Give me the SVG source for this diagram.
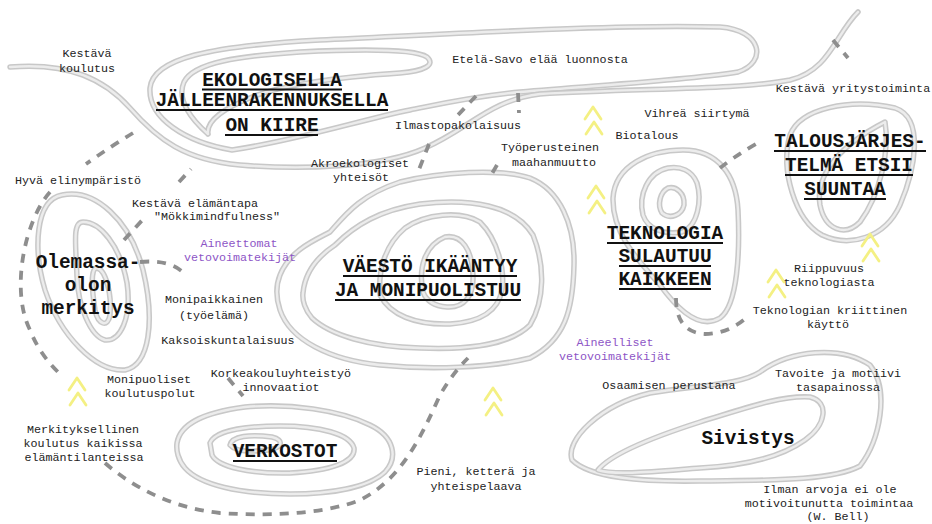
<svg xmlns="http://www.w3.org/2000/svg" xmlns:xlink="http://www.w3.org/1999/xlink" width="932" height="524" viewBox="0 0 932 524">
<style>
.c{fill:none;stroke:#c8c8c8;stroke-width:5.5;stroke-linecap:round;stroke-linejoin:round}
.ci{fill:none;stroke:#ececec;stroke-width:2.4;stroke-linecap:round;stroke-linejoin:round}
.d{fill:none;stroke:#8e8e8e;stroke-width:3.8;stroke-dasharray:9 8;stroke-linecap:butt}
.ch{fill:none;stroke:#f4f083;stroke-width:2.8;stroke-linecap:round;stroke-linejoin:round}
.t{font-family:"Liberation Mono","Courier New",monospace;font-size:11.7px;fill:#222;text-anchor:middle}
.p{fill:#8d55c6}
.h{font-family:"Liberation Mono","Courier New",monospace;font-size:19.4px;font-weight:bold;fill:#111;text-anchor:middle}
.u{stroke:#111;stroke-width:2.2}
</style>
<defs>
<g id="dch"><path class="ch" d="M-8,12 L0,0 L8,12"/><path class="ch" d="M-7,27 L1,15 L9,27"/></g>
<path id="e1" d="M208,134 C192,120 176,100 184,82 C194,62 240,56 300,52 C360,49 415,49 427,57 C436,65 424,71 400,73 C340,77 285,84 252,97 C225,108 206,120 208,134"/>
<path id="e2" d="M232,150 C185,142 148,118 150,88 C153,58 210,46 320,40 C470,33 620,24 720,27 C762,30 768,62 738,72 C690,80 600,85 520,92 C470,97 440,104 410,110 C360,120 300,140 232,150"/>
<path id="e3" d="M10,67 C70,62 105,80 130,108 C158,140 185,160 240,165 C300,170 380,168 425,148 C470,128 490,100 540,94 C640,88 740,90 790,80 C830,70 835,35 858,12"/>
<path id="o1" d="M62,195 C95,188 130,220 143,270 C155,320 150,365 125,370 C95,372 60,335 45,290 C33,250 35,200 62,195 Z"/>
<path id="o2" d="M83,222 C100,222 120,245 127,283 C132,318 120,342 105,340 C90,336 78,305 77,277 C76,245 72,222 83,222 Z"/>
<path id="o3" d="M97,268 C106,270 112,295 110,315 C108,328 98,325 95,310 C92,290 90,268 97,268 Z"/>
<path id="v1" d="M280,275 C290,250 315,240 330,232 C345,215 360,195 400,182 C440,172 500,168 530,178 C560,190 575,225 574,265 C573,310 565,340 530,358 C490,368 430,370 380,365 C330,360 290,340 280,310 C276,298 276,285 280,275 Z"/>
<path id="v2" d="M303,293 C305,270 320,255 335,245 C355,225 380,210 420,204 C470,198 515,205 533,235 C545,265 545,300 530,325 C510,345 470,350 420,348 C370,347 330,335 312,318 C305,310 302,300 303,293 Z"/>
<path id="v3" d="M380,295 C378,270 385,245 405,228 C425,214 460,210 480,222 C498,240 505,270 502,290 C498,312 480,322 450,324 C415,325 390,315 380,295 Z"/>
<path id="v4" d="M423,292 C418,268 425,245 445,237 C462,234 472,250 473,275 C474,295 465,308 447,307 C433,306 426,300 423,292 Z"/>
<path id="r1" d="M177,443 C180,425 200,413 245,407 C290,403 340,410 370,425 C395,437 398,458 385,472 C368,488 330,494 290,494 C240,494 200,485 185,468 C178,460 176,450 177,443 Z"/>
<path id="r2" d="M210,443 C214,432 240,426 280,426 C320,426 350,434 354,448 C356,462 330,471 290,473 C250,474 218,467 212,455 Z"/>
<path id="r3" d="M230,445 C232,436 250,434 272,437 C285,440 282,448 268,450 C252,452 236,452 230,445 Z"/>
<path id="k1" d="M683,150 C650,150 615,165 613,198 C612,235 640,262 660,285 C678,310 700,330 720,318 C738,305 740,250 738,210 C736,175 718,150 683,150 Z"/>
<path id="k2" d="M668,168 C648,172 638,195 643,215 C648,230 665,235 682,232 C698,226 702,200 697,183 C692,170 680,166 668,168 Z"/>
<path id="k3" d="M668,188 C660,192 657,205 662,213 C670,220 682,215 684,205 C685,193 676,186 668,188 Z"/>
<path id="a1" d="M790,135 C800,108 850,98 895,108 C925,118 915,170 900,205 C885,238 850,248 822,235 C795,220 780,170 790,135 Z"/>
<path id="a2" d="M885,122 C890,150 880,195 860,222 C845,237 825,230 820,205 C815,175 840,145 885,122 Z"/>
<path id="s1" d="M760,372 C790,350 840,345 870,365 C890,390 880,440 860,466 C830,482 760,480 700,481 C640,482 590,478 572,460 C565,440 600,405 650,393 C700,385 740,385 760,372 Z"/>
<path id="s2" d="M598,470 C610,455 650,438 700,422 C740,410 780,395 810,397 C830,402 826,425 805,440 C780,458 740,466 700,468 C660,471 615,476 598,470 Z"/>
</defs>
<rect width="932" height="524" fill="#fff"/>

<g id="ekologisella">
<use xlink:href="#e1" class="c"/><use xlink:href="#e1" class="ci"/>
<use xlink:href="#e2" class="c"/><use xlink:href="#e2" class="ci"/>
<use xlink:href="#e3" class="c"/><use xlink:href="#e3" class="ci"/>
<text class="h" x="272" y="86">EKOLOGISELLA</text>
<text class="h" x="272" y="106">JÄLLEENRAKENNUKSELLA</text>
<text class="h" x="272" y="131">ON KIIRE</text>
<line class="u" x1="202" y1="89.5" x2="342" y2="89.5"/>
<line class="u" x1="156" y1="110" x2="388" y2="110"/>
<line class="u" x1="225" y1="135" x2="318" y2="135"/>
</g>

<g id="olemassaolo">
<use xlink:href="#o1" class="c"/><use xlink:href="#o1" class="ci"/>
<use xlink:href="#o2" class="c"/><use xlink:href="#o2" class="ci"/>
<use xlink:href="#o3" class="c"/><use xlink:href="#o3" class="ci"/>
<text class="h" x="88" y="268">Olemassa-</text>
<text class="h" x="88" y="291">olon</text>
<text class="h" x="88" y="314">merkitys</text>
</g>

<g id="vaesto">
<use xlink:href="#v1" class="c"/><use xlink:href="#v1" class="ci"/>
<use xlink:href="#v2" class="c"/><use xlink:href="#v2" class="ci"/>
<use xlink:href="#v3" class="c"/><use xlink:href="#v3" class="ci"/>
<use xlink:href="#v4" class="c"/><use xlink:href="#v4" class="ci"/>
<text class="h" x="430" y="272">VÄESTÖ IKÄÄNTYY</text>
<text class="h" x="428" y="296">JA MONIPUOLISTUU</text>
<line class="u" x1="343" y1="276" x2="517" y2="276"/>
<line class="u" x1="335" y1="300" x2="521" y2="300"/>
</g>

<g id="verkostot">
<use xlink:href="#r1" class="c"/><use xlink:href="#r1" class="ci"/>
<use xlink:href="#r2" class="c"/><use xlink:href="#r2" class="ci"/>
<use xlink:href="#r3" class="c"/><use xlink:href="#r3" class="ci"/>
<text class="h" x="285" y="457">VERKOSTOT</text>
<line class="u" x1="233" y1="461" x2="337" y2="461"/>
</g>

<g id="teknologia">
<use xlink:href="#k1" class="c"/><use xlink:href="#k1" class="ci"/>
<use xlink:href="#k2" class="c"/><use xlink:href="#k2" class="ci"/>
<use xlink:href="#k3" class="c"/><use xlink:href="#k3" class="ci"/>
<text class="h" x="665" y="239">TEKNOLOGIA</text>
<text class="h" x="665" y="262">SULAUTUU</text>
<text class="h" x="665" y="285">KAIKKEEN</text>
<line class="u" x1="607" y1="243" x2="723" y2="243"/>
<line class="u" x1="619" y1="266" x2="711" y2="266"/>
<line class="u" x1="619" y1="289" x2="711" y2="289"/>
</g>

<g id="talous">
<use xlink:href="#a1" class="c"/><use xlink:href="#a1" class="ci"/>
<use xlink:href="#a2" class="c"/><use xlink:href="#a2" class="ci"/>
<text class="h" x="850" y="147">TALOUSJÄRJES-</text>
<text class="h" x="849" y="171">TELMÄ ETSII</text>
<text class="h" x="845" y="195">SUUNTAA</text>
<line class="u" x1="774" y1="151" x2="926" y2="151"/>
<line class="u" x1="785" y1="175" x2="913" y2="175"/>
<line class="u" x1="804" y1="199" x2="886" y2="199"/>
</g>

<g id="sivistys">
<use xlink:href="#s1" class="c"/><use xlink:href="#s1" class="ci"/>
<use xlink:href="#s2" class="c"/><use xlink:href="#s2" class="ci"/>
<text class="h" x="748" y="444">Sivistys</text>
</g>

<g id="connectors">
<path class="d" d="M133,133 Q110,147 86,164"/>
<path class="d" d="M50,192 C25,220 10,290 30,330 C38,350 48,362 58,372"/>
<path class="d" d="M105,463 C130,485 170,508 220,513 C280,517 330,512 360,500 C400,480 420,440 440,395 C450,378 458,368 468,358"/>
<path class="d" d="M140,262 C160,260 175,264 185,274"/>
<path class="d" d="M124,240 L147,215"/>
<path class="d" d="M179,182 L191,169"/>
<path class="d" d="M476,96 L457,116"/>
<path class="d" d="M518,93 L519,113"/>
<path class="d" d="M429,144 L418,172"/>
<path class="d" d="M497,165 L490,177"/>
<path class="d" d="M720,168 C730,160 742,152 756,144"/>
<path class="d" d="M676,298 C676,320 685,333 705,334 C720,334 735,328 746,318"/>
<path class="d" d="M833,40 L848,58"/>
<path class="d" d="M228,378 L243,396"/>
</g>

<g id="chevrons">
<use xlink:href="#dch" x="593" y="107"/>
<use xlink:href="#dch" x="596" y="186"/>
<use xlink:href="#dch" x="77" y="378"/>
<use xlink:href="#dch" x="493" y="388"/>
<use xlink:href="#dch" x="776" y="270"/>
<use xlink:href="#dch" x="870" y="234"/>
</g>

<g id="labels">
<text class="t" x="87" y="57">Kestävä</text>
<text class="t" x="87" y="72">koulutus</text>
<text class="t" x="540" y="63">Etelä-Savo elää luonnosta</text>
<text class="t" x="853" y="92">Kestävä yritystoiminta</text>
<text class="t" x="697" y="117">Vihreä siirtymä</text>
<text class="t" x="647" y="139">Biotalous</text>
<text class="t" x="458" y="129">Ilmastopakolaisuus</text>
<text class="t" x="550" y="151">Työperusteinen</text>
<text class="t" x="554" y="166">maahanmuutto</text>
<text class="t" x="360" y="167">Akroekologiset</text>
<text class="t" x="361" y="181">yhteisöt</text>
<text class="t" x="78" y="184">Hyvä elinympäristö</text>
<text class="t" x="195" y="207">Kestävä elämäntapa</text>
<text class="t" x="217" y="220">"Mökkimindfulness"</text>
<text class="t p" x="239" y="247">Aineettomat</text>
<text class="t p" x="240" y="261">vetovoimatekijät</text>
<text class="t" x="214" y="303">Monipaikkainen</text>
<text class="t" x="214" y="319">(työelämä)</text>
<text class="t" x="228" y="344">Kaksoiskuntalaisuus</text>
<text class="t" x="281" y="377">Korkeakouluyhteistyö</text>
<text class="t" x="281" y="391">innovaatiot</text>
<text class="t" x="149" y="383">Monipuoliset</text>
<text class="t" x="150" y="397">koulutuspolut</text>
<text class="t" x="83" y="433">Merkityksellinen</text>
<text class="t" x="83" y="447">koulutus kaikissa</text>
<text class="t" x="84" y="461">elämäntilanteissa</text>
<text class="t" x="476" y="475">Pieni, ketterä ja</text>
<text class="t" x="476" y="490">yhteispelaava</text>
<text class="t" x="829" y="272">Riippuvuus</text>
<text class="t" x="829" y="286">teknologiasta</text>
<text class="t" x="830" y="314">Teknologian kriittinen</text>
<text class="t" x="828" y="328">käyttö</text>
<text class="t p" x="615" y="346">Aineelliset</text>
<text class="t p" x="615" y="360">vetovoimatekijät</text>
<text class="t" x="838" y="377">Tavoite ja motiivi</text>
<text class="t" x="838" y="391">tasapainossa</text>
<text class="t" x="669" y="389">Osaamisen perustana</text>
<text class="t" x="830" y="493">Ilman arvoja ei ole</text>
<text class="t" x="829" y="507">motivoitunutta toimintaa</text>
<text class="t" x="838" y="520">(W. Bell)</text>
</g>
</svg>
